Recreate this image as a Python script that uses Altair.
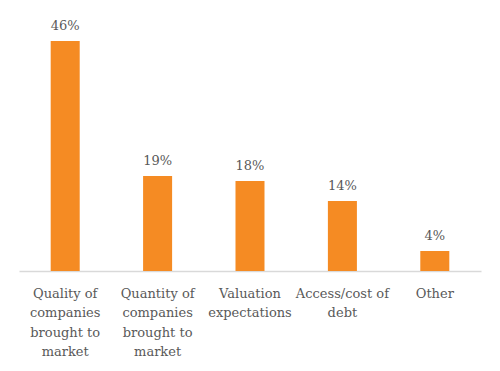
import altair as alt
import pandas as pd

categories = ["Quality of companies brought to market",
              "Quantity of companies brought to market",
              "Valuation expectations",
              "Access/cost of debt",
              "Other"]
label_lines = ["Quality of|companies|brought to|market",
               "Quantity of|companies|brought to|market",
               "Valuation|expectations",
               "Access/cost of|debt",
               "Other"]
values = [46, 19, 18, 14, 4]

df = pd.DataFrame({"category": categories, "value": values,
                   "text": [f"{v}%" for v in values]})

expr = " : ".join(
    [f"datum.label == '{c}' ? split('{l}', '|')" for c, l in zip(categories, label_lines)]
) + " : datum.label"

FONT = "DejaVu Serif"
GREY = "#595959"

x = alt.X("category:N", sort=categories, title=None,
          scale=alt.Scale(paddingInner=0.686, paddingOuter=0.343),
          axis=alt.Axis(labelExpr=expr, labelAngle=0, labelFont=FONT,
                        labelFontSize=13, labelColor=GREY, labelLineHeight=19.5,
                        labelPadding=16, ticks=False, domainColor="#d9d9d9",
                        domainWidth=1.5, labelLimit=200))
y = alt.Y("value:Q", scale=alt.Scale(domain=[0, 50], nice=False), axis=None)

bars = alt.Chart(df).mark_bar(color="#F58B23").encode(x=x, y=y)
text = alt.Chart(df).mark_text(dy=-8, baseline="bottom", font=FONT,
                               fontSize=13, color=GREY).encode(
    x=alt.X("category:N", sort=categories), y="value:Q", text="text:N")

chart = (bars + text).properties(
    width=462, height=250,
    autosize=alt.AutoSizeParams(type="none"),
    padding={"left": 11, "top": 13, "right": 11, "bottom": 90},
).configure(font=FONT).configure_view(stroke=None)

chart.save("out.html", embed_options={"renderer": "svg", "actions": False})
